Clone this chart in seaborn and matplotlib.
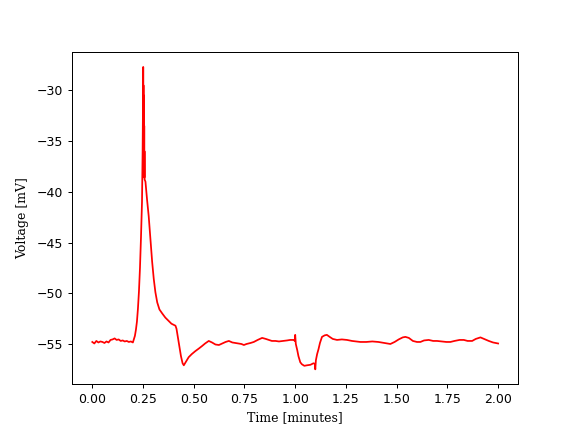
import matplotlib
matplotlib.use("Agg")
import matplotlib.pyplot as plt
import pandas as pd
import seaborn as sns

# ── Data ─────────────────────────────────────────────────────────────────────
time_min = [
    0.00, 0.01, 0.02, 0.03, 0.04, 0.05, 0.06, 0.07, 0.08, 0.09,
    0.10, 0.11, 0.12, 0.13, 0.14, 0.15, 0.16, 0.17, 0.18, 0.19,
    0.20, 0.21, 0.215, 0.22, 0.225, 0.23, 0.235, 0.24, 0.245, 0.248,
    0.250, 0.2505, 0.251, 0.2515, 0.252, 0.2525, 0.253, 0.2535, 0.254, 0.2545,
    0.255, 0.2555, 0.256, 0.2565, 0.257, 0.258, 0.262, 0.27, 0.278, 0.285,
    0.295, 0.303, 0.311, 0.32, 0.331, 0.345, 0.36, 0.375, 0.39, 0.40,
    0.41, 0.415, 0.423, 0.43, 0.437, 0.445, 0.451, 0.46, 0.475, 0.49,
    0.508, 0.525, 0.541, 0.556, 0.574, 0.59, 0.607, 0.624, 0.64, 0.657,
    0.673, 0.69, 0.705, 0.72, 0.735, 0.747, 0.76, 0.78, 0.796, 0.815,
    0.837, 0.855, 0.87, 0.885, 0.903, 0.92, 0.94, 0.96, 0.975, 0.993,
    0.998, 1.0, 1.003, 1.01, 1.016, 1.025, 1.033, 1.045, 1.058, 1.075,
    1.09, 1.097, 1.099, 1.102, 1.108, 1.115, 1.122, 1.132, 1.145, 1.156,
    1.17, 1.185, 1.206, 1.23, 1.255, 1.28, 1.30, 1.321, 1.35, 1.38,
    1.41, 1.44, 1.469, 1.49, 1.51, 1.53, 1.543, 1.56, 1.58, 1.60,
    1.617, 1.635, 1.658, 1.68, 1.699, 1.72, 1.745, 1.765, 1.785, 1.81,
    1.831, 1.85, 1.872, 1.89, 1.913, 1.93, 1.954, 1.975, 2.00,
]
voltage_mv = [
    -54.80, -54.95, -54.70, -54.85, -54.75, -54.80, -54.90, -54.75, -54.85, -54.60,
    -54.55, -54.45, -54.60, -54.55, -54.70, -54.65, -54.75, -54.70, -54.80, -54.75,
    -54.85, -54.20, -53.60, -52.80, -51.50, -49.80, -47.50, -44.50, -41.00, -36.00,
    -31.00, -35.00, -27.70, -36.00, -29.50, -38.00, -30.50, -37.50, -31.00, -38.50,
    -32.50, -38.00, -33.50, -38.60, -36.00, -38.80, -39.00, -40.80, -42.40, -44.30,
    -46.90, -48.60, -49.90, -50.90, -51.60, -52.00, -52.40, -52.70, -53.00, -53.10,
    -53.20, -53.50, -54.50, -55.40, -56.20, -56.90, -57.10, -56.80, -56.30, -56.00,
    -55.70, -55.45, -55.20, -54.95, -54.70, -54.85, -55.05, -55.10, -54.95, -54.80,
    -54.70, -54.85, -54.90, -54.95, -55.00, -55.10, -55.00, -54.90, -54.80, -54.60,
    -54.40, -54.50, -54.60, -54.70, -54.70, -54.75, -54.70, -54.65, -54.60, -54.60,
    -54.70, -54.10, -55.00, -55.60, -56.20, -56.80, -57.00, -57.15, -57.10, -57.05,
    -56.90, -56.95, -57.50, -56.60, -56.00, -55.50, -54.90, -54.30, -54.15, -54.10,
    -54.30, -54.50, -54.60, -54.55, -54.60, -54.70, -54.75, -54.80, -54.80, -54.75,
    -54.80, -54.90, -55.00, -54.80, -54.55, -54.35, -54.30, -54.40, -54.70, -54.80,
    -54.80, -54.65, -54.60, -54.70, -54.70, -54.75, -54.80, -54.80, -54.70, -54.60,
    -54.60, -54.70, -54.70, -54.50, -54.35, -54.50, -54.70, -54.85, -54.95,
]

df = pd.DataFrame({"time": time_min, "voltage": voltage_mv})

fig, ax = plt.subplots(figsize=(6.4, 4.8), dpi=90)
sns.lineplot(data=df, x="time", y="voltage", color="red", linewidth=1.4,
             errorbar=None, ax=ax)

ax.set_xlabel("Time [minutes]", family="DejaVu Serif")
ax.set_ylabel("Voltage [mV]", family="DejaVu Serif", labelpad=6)

fig.savefig("out.png", dpi=90)
plt.close(fig)
